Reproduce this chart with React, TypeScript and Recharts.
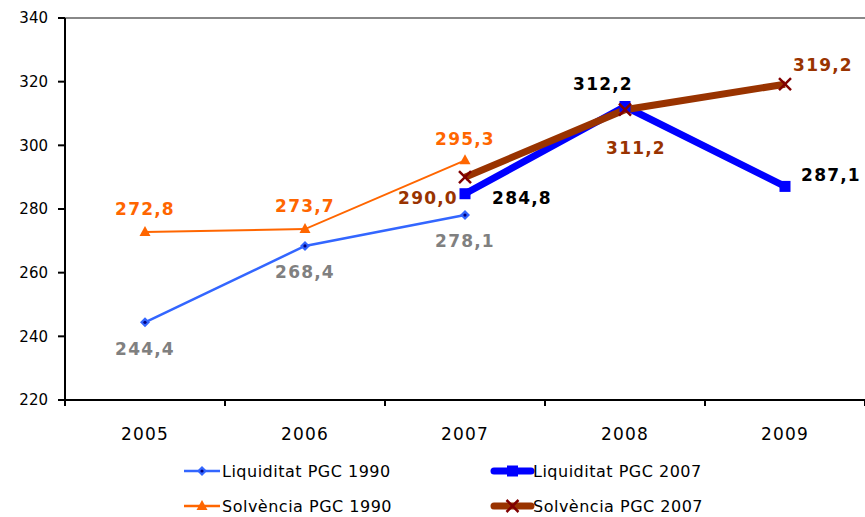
import React from 'react';
import { LineChart, Line, XAxis, YAxis, ReferenceLine, LabelList, Legend } from 'recharts';

const years = ['2005', '2006', '2007', '2008', '2009'];
const liq1990 = [244.4, 268.4, 278.1, null, null];
const solv1990 = [272.8, 273.7, 295.3, null, null];
const liq2007 = [null, null, 284.8, 312.2, 287.1];
const solv2007 = [null, null, 290.0, 311.2, 319.2];
const yTicks = [220, 240, 260, 280, 300, 320, 340];
const xBounds = [0, 1, 2, 3, 4, 5];

// label offsets (dx, dy) relative to each point, like the original Excel placement
const liq1990Pos = [[0, 27], [0, 26], [0, 26], [0, 0], [0, 0]];
const solv1990Pos = [[0, -23], [0, -23], [0, -21], [0, 0], [0, 0]];
const liq2007Pos = [[0, 0], [0, 0], [57, 4], [-22, -22], [46, -11]];
const solv2007Pos = [[0, 0], [0, 0], [-37, 21], [11, 38], [38, -19]];

const data = years.map((year, i) => ({
  x: i + 0.5,
  year,
  liq1990: liq1990[i],
  solv1990: solv1990[i],
  liq2007: liq2007[i],
  solv2007: solv2007[i],
}));

const FONT = '"DejaVu Sans", Verdana, sans-serif';
const fmt = (v: number) => v.toFixed(1).replace('.', ',');

const Diamond = ({ cx, cy }: any) => {
  if (cx == null || cy == null) return null;
  return (
    <g>
      <polygon points={`${cx},${cy - 5} ${cx + 5},${cy} ${cx},${cy + 5} ${cx - 5},${cy}`} fill="#3366ff" />
      <circle cx={cx} cy={cy} r={1.6} fill="#000080" />
    </g>
  );
};

const Triangle = ({ cx, cy }: any) => {
  if (cx == null || cy == null) return null;
  return <polygon points={`${cx},${cy - 6} ${cx + 5.5},${cy + 4} ${cx - 5.5},${cy + 4}`} fill="#ff6600" />;
};

const Square = ({ cx, cy }: any) => {
  if (cx == null || cy == null) return null;
  return <rect x={cx - 5.5} y={cy - 5.5} width={11} height={11} fill="#0000ff" />;
};

const Cross = ({ cx, cy }: any) => {
  if (cx == null || cy == null) return null;
  return (
    <g stroke="#800000" strokeWidth={2.5}>
      <line x1={cx - 6} y1={cy - 6} x2={cx + 6} y2={cy + 6} />
      <line x1={cx - 6} y1={cy + 6} x2={cx + 6} y2={cy - 6} />
    </g>
  );
};

const makeLabel = (pos: number[][], color: string) => (props: any) => {
  const { x, y, value, index } = props;
  if (value == null || x == null || y == null) return null;
  const [dx, dy] = pos[index];
  return (
    <text
      x={x + dx}
      y={y + dy}
      fill={color}
      textAnchor="middle"
      dominantBaseline="central"
      fontFamily={FONT}
      fontWeight="bold"
      fontSize={17}
      letterSpacing={1.2}
    >
      {fmt(value)}
    </text>
  );
};

const XTick = (props: any) => {
  const { x, y, payload } = props;
  const idx = payload.value;
  if (idx >= years.length) return null;
  const half = (props.width ?? 800) / years.length / 2;
  return (
    <text x={x + half} y={y + 32} textAnchor="middle" fontFamily={FONT} fontSize={17} letterSpacing={1.2} fill="#000">
      {years[idx]}
    </text>
  );
};

const legendItems = [
  { name: 'Liquiditat PGC 1990', color: '#3366ff', width: 2.5, marker: Diamond, col: 0, row: 0 },
  { name: 'Liquiditat PGC 2007', color: '#0000ff', width: 7, marker: Square, col: 1, row: 0 },
  { name: 'Solvència PGC 1990', color: '#ff6600', width: 2.5, marker: Triangle, col: 0, row: 1 },
  { name: 'Solvència PGC 2007', color: '#993300', width: 7, marker: Cross, col: 1, row: 1 },
];

const renderLegend = () => (
  <svg width={865} height={67} style={{ display: 'block' }}>
    {legendItems.map((it) => {
      const x1 = it.col === 0 ? 184 : 494;
      const x2 = it.col === 0 ? 220 : 531;
      const y = it.row === 0 ? 21 : 56;
      const M = it.marker;
      return (
        <g key={it.name}>
          <line x1={x1} y1={y} x2={x2} y2={y} stroke={it.color} strokeWidth={it.width} strokeLinecap={it.width > 3 ? 'round' : 'butt'} />
          <M cx={(x1 + x2) / 2} cy={y} />
          <text x={x2 + 2} y={y} dominantBaseline="central" fontFamily={FONT} fontSize={16} letterSpacing={0.5} fill="#000">
            {it.name}
          </text>
        </g>
      );
    })}
  </svg>
);

export default function App() {
  return (
    <div style={{ position: 'absolute', left: 0, top: 0, background: '#fff' }}>
      <LineChart width={865} height={517} data={data} margin={{ top: 18, right: 0, bottom: 0, left: 0 }}>
        <XAxis
          dataKey="x"
          type="number"
          domain={[0, 5]}
          ticks={xBounds}
          interval={0}
          height={50}
          axisLine={{ stroke: '#000', strokeWidth: 2 }}
          tickLine={{ stroke: '#000', strokeWidth: 2 }}
          tickSize={6}
          tick={<XTick />}
        />
        <YAxis
          domain={[220, 340]}
          ticks={yTicks}
          interval={0}
          width={65}
          axisLine={{ stroke: '#000', strokeWidth: 2 }}
          tickLine={{ stroke: '#000', strokeWidth: 2 }}
          tickSize={7}
          tickMargin={10}
          tick={{ fontFamily: FONT, fontSize: 15, fill: '#000' }}
        />
        <ReferenceLine y={340} stroke="#888888" strokeWidth={2} />
        <Legend content={renderLegend} verticalAlign="bottom" wrapperStyle={{ left: 0, bottom: 0, width: 865, height: 67 }} />
        <Line dataKey="liq1990" name="Liquiditat PGC 1990" stroke="#3366ff" strokeWidth={2.5} dot={<Diamond />} activeDot={false} isAnimationActive={false}>
          <LabelList dataKey="liq1990" content={makeLabel(liq1990Pos, '#808080')} />
        </Line>
        <Line dataKey="solv1990" name="Solvència PGC 1990" stroke="#ff6600" strokeWidth={2} dot={<Triangle />} activeDot={false} isAnimationActive={false}>
          <LabelList dataKey="solv1990" content={makeLabel(solv1990Pos, '#ff6600')} />
        </Line>
        <Line dataKey="liq2007" name="Liquiditat PGC 2007" stroke="#0000ff" strokeWidth={7} dot={<Square />} activeDot={false} isAnimationActive={false}>
          <LabelList dataKey="liq2007" content={makeLabel(liq2007Pos, '#000000')} />
        </Line>
        <Line dataKey="solv2007" name="Solvència PGC 2007" stroke="#993300" strokeWidth={7} dot={<Cross />} activeDot={false} isAnimationActive={false}>
          <LabelList dataKey="solv2007" content={makeLabel(solv2007Pos, '#993300')} />
        </Line>
      </LineChart>
    </div>
  );
}
